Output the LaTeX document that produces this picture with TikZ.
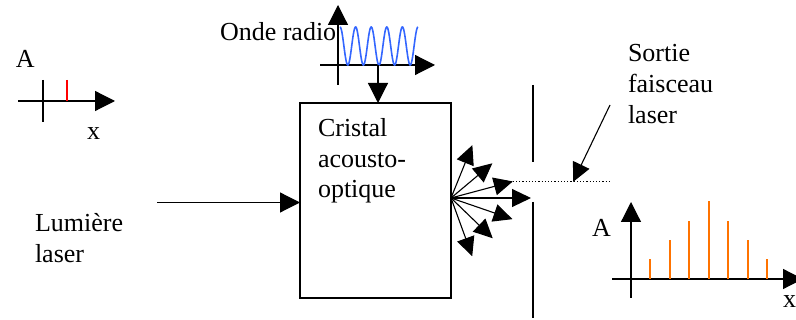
\documentclass[tikz,border=0pt]{standalone}
\usepackage{fontspec}
\setmainfont{Liberation Serif}[Ligatures=TeX]
\usepackage{tikz}
\usetikzlibrary{positioning,calc,arrows.meta}

\begin{document}
\begin{tikzpicture}[
    x=1pt, y=-1pt,
    outer sep=0pt,
    lbl/.style={inner sep=0pt, align=left, anchor=base west, font=\rmfamily\fontsize{26}{30.5}\selectfont},
    axis/.style={line width=1.2pt, -{Triangle[length=20pt, width=20pt]}},
    ray/.style={line width=1.1pt, -{Triangle[length=19pt, width=18pt]}},
    peak/.style={line width=1.8pt, color=orange!90!red}
]
    \useasboundingbox (0,0) rectangle (796,320);
    % petit repere a gauche
    \coordinate (gx0) at (18,101);
    \draw[axis] (gx0) -- ++(97,0) coordinate (gx1);
    \draw[line width=1.2pt] (43,80) -- (43,122);
    \draw[line width=1.6pt, red] (67,80) -- (67,101);
    \node[lbl] (gA) at (16,68) {A};
    \node[lbl] (gx) at (87,140) {x};
    % onde radio
    \node[lbl] (radio) at (220,41) {Onde radio};
    \draw[axis] (338,85) -- (338,5);
    \draw[axis] (320,65) -- (435,65);
    \draw[line width=1.6pt, color={rgb,255:red,51;green,102;blue,255}, domain=0:78, samples=200]
        plot ({340+\x}, {46-19*cos(\x*23.077)});
    \coordinate (rf) at (378,65);
    % cristal
    \node[draw, line width=1.2pt, minimum width=151pt, minimum height=195pt, anchor=north west] (crystal) at (300,103) {};
    \node[lbl] (ctext) at (318,198) {Cristal\\acousto-\\optique};
    \draw[axis] (rf) -- (rf |- crystal.north);
    % lumiere laser
    \node[lbl, font=\rmfamily\fontsize{26}{31}\selectfont] (lum) at (35,263) {Lumière\\laser};
    \coordinate (in) at (157,202.5);
    \draw[axis] (in) -- (in -| crystal.west);
    % faisceaux diffractes
    \coordinate (o) at (451,198);
    \foreach \a/\l/\n in {-68/57/b1, -40/54/b2, -15/64/b3, 0/80/b4, 19/65/b5, 44/58/b6, 70/62/b7}
        \draw[ray] (o) -- ++(\a:\l) coordinate (\n);
    % fente
    \draw[line width=1.2pt] (533,85) -- (533,162);
    \draw[line width=1.2pt] (533,202) -- (533,318);
    \draw[dotted, line width=1.2pt] (b3) -- ++(97,0) coordinate (dotend);
    % sortie
    \node[lbl, font=\rmfamily\fontsize{26}{31}\selectfont] (sortie) at (628,124) {Sortie\\faisceau\\laser};
    \coordinate (ptr) at (610,105);
    \draw[ray] (ptr) -- (573,182);
    % spectre
    \draw[axis] (631,298) -- (631,202);
    \draw[axis] (612,279) -- (803,279);
    \node[lbl] (sA) at (592,237) {A};
    \node[lbl] (sx) at (783,308) {x};
    \foreach \px/\h in {650/20, 670/39, 689/58, 709/78, 728/58, 748/39, 767/20}
        \draw[peak] (\px,279) -- ++(0,-\h);
\end{tikzpicture}
\end{document}
